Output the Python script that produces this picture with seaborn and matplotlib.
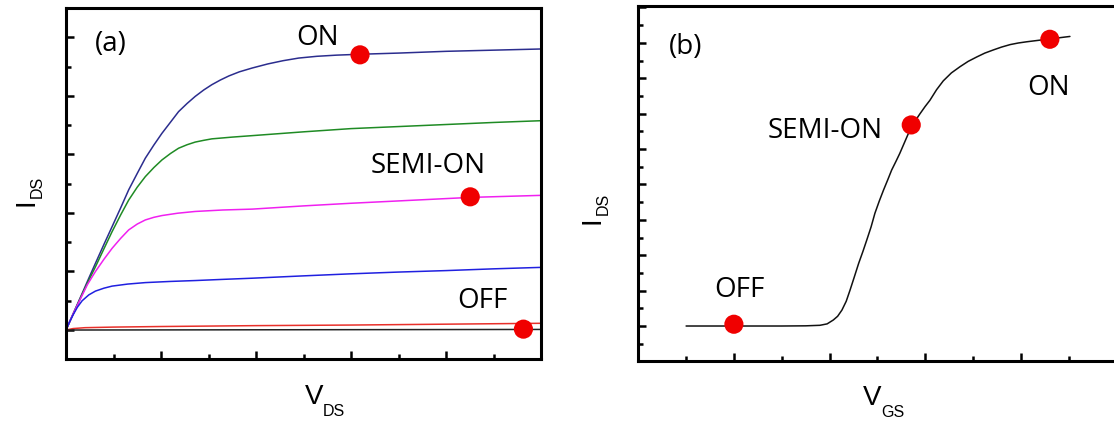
import numpy as np
import pandas as pd
import seaborn as sns
import matplotlib.pyplot as plt
from matplotlib.ticker import MultipleLocator

# ---- panel (a): output curves, I_DS vs V_DS ----
navy_x = [0, 0.17, 0.34, 0.48, 0.62, 0.8, 0.97, 1.15, 1.32, 1.5, 1.67, 1.85, 2.02, 2.2, 2.37,
          2.55, 2.72, 2.9, 3.07, 3.25, 3.43, 3.65, 3.92, 4.25, 4.57, 4.9, 5.28, 5.7, 6.19,
          7.0, 8.0, 9.0, 10.0]
navy_y = [0, 0.63, 1.25, 1.77, 2.28, 2.93, 3.53, 4.17, 4.79, 5.35, 5.87, 6.32, 6.72, 7.1, 7.46,
          7.74, 7.98, 8.2, 8.38, 8.54, 8.68, 8.82, 8.95, 9.09, 9.2, 9.29, 9.35, 9.39, 9.42,
          9.46, 9.52, 9.56, 9.60]

green_x = [0, 0.17, 0.34, 0.48, 0.62, 0.8, 0.97, 1.15, 1.32, 1.5, 1.67, 1.85, 2.02, 2.2, 2.37,
           2.55, 2.72, 2.9, 3.07, 3.5, 3.92, 5.0, 6.0, 7.0, 8.0, 9.0, 10.0]
green_y = [0, 0.61, 1.22, 1.7, 2.16, 2.78, 3.36, 3.93, 4.44, 4.88, 5.24, 5.55, 5.81, 6.03, 6.21,
           6.33, 6.42, 6.48, 6.53, 6.59, 6.64, 6.77, 6.88, 6.95, 7.02, 7.09, 7.15]

magenta_x = [0, 0.15, 0.3, 0.45, 0.62, 0.8, 0.97, 1.15, 1.32, 1.5, 1.67, 1.85, 2.02, 2.35,
             2.72, 3.3, 3.92, 5.0, 6.0, 7.0, 8.51, 10.0]
magenta_y = [0, 0.55, 1.05, 1.55, 2.0, 2.42, 2.79, 3.13, 3.42, 3.62, 3.76, 3.85, 3.91, 3.99,
             4.05, 4.1, 4.13, 4.24, 4.33, 4.41, 4.53, 4.60]

blue_x = [0, 0.07, 0.15, 0.24, 0.34, 0.48, 0.62, 0.8, 0.97, 1.3, 1.67, 2.2, 2.72, 3.3, 3.92,
          5.0, 6.0, 7.0, 8.0, 9.0, 10.0]
blue_y = [0, 0.26, 0.52, 0.78, 1.0, 1.2, 1.33, 1.43, 1.50, 1.57, 1.62, 1.66, 1.69, 1.73, 1.77,
          1.85, 1.92, 1.98, 2.03, 2.09, 2.14]

red_x = [0, 0.15, 0.4, 1.0, 2.0, 4.0, 6.0, 8.0, 10.0]
red_y = [0, 0.05, 0.08, 0.10, 0.12, 0.15, 0.17, 0.20, 0.23]

black_x = [0, 10.0]
black_y = [0, 0.02]

a_dot_x = [6.19, 8.51, 9.63]
a_dot_y = [9.40, 4.55, 0.03]
a_labels = ["ON", "SEMI-ON", "OFF"]

# ---- panel (b): transfer curve, I_DS vs V_GS ----
gs_x = [1.0, 2.0, 3.0, 3.5, 3.8, 3.95, 4.08, 4.17, 4.26, 4.35, 4.43, 4.52, 4.61, 4.7, 4.78,
        4.87, 4.95, 5.04, 5.13, 5.22, 5.30, 5.39, 5.47, 5.59, 5.71, 5.8, 5.89, 6.0, 6.1,
        6.24, 6.38, 6.55, 6.73, 6.9, 7.08, 7.25, 7.43, 7.6, 7.78, 7.95, 8.13, 8.37, 8.61,
        8.82, 9.03]
gs_y = [0, 0, 0, 0.01, 0.04, 0.12, 0.34, 0.55, 0.9, 1.4, 2.03, 2.78, 3.54, 4.22, 4.86,
        5.6, 6.37, 7.05, 7.68, 8.27, 8.81, 9.3, 9.75, 10.5, 11.25, 11.62, 11.98, 12.4, 12.75,
        13.35, 13.85, 14.3, 14.65, 14.95, 15.2, 15.42, 15.6, 15.76, 15.9, 15.99, 16.06, 16.14, 16.22,
        16.29, 16.36]

b_dot_x = [2.0, 5.71, 8.61]
b_dot_y = [0.1, 11.36, 16.2]
b_labels = ["OFF", "SEMI-ON", "ON"]

curves = pd.concat([
    pd.DataFrame({"vds": navy_x, "ids": navy_y, "curve": "c1"}),
    pd.DataFrame({"vds": green_x, "ids": green_y, "curve": "c2"}),
    pd.DataFrame({"vds": magenta_x, "ids": magenta_y, "curve": "c3"}),
    pd.DataFrame({"vds": blue_x, "ids": blue_y, "curve": "c4"}),
    pd.DataFrame({"vds": red_x, "ids": red_y, "curve": "c5"}),
    pd.DataFrame({"vds": black_x, "ids": black_y, "curve": "c6"}),
])
palette = {"c1": "#2b2d8e", "c2": "#1f8b24", "c3": "#f020f0",
           "c4": "#2020e0", "c5": "#e8302a", "c6": "#222222"}

sns.set_theme(style="white")
plt.rcParams['font.family'] = ['Open Sans', 'DejaVu Sans']
plt.rcParams['text.color'] = 'black'

W, H = 1114, 423
fig = plt.figure(figsize=(W / 100, H / 100), dpi=100)
ax1 = fig.add_axes([66 / W, 63.7 / H, 475 / W, 351.3 / H])
ax2 = fig.add_axes([638.3 / W, 62.3 / H, 478 / W, 354.7 / H])

sns.lineplot(data=curves, x="vds", y="ids", hue="curve", palette=palette,
             sort=False, estimator=None, linewidth=1.1, legend=False, ax=ax1)
sns.scatterplot(x=a_dot_x, y=a_dot_y, color="#f00000", s=190, edgecolor="none",
                zorder=5, ax=ax1)

sns.lineplot(x=gs_x, y=gs_y, color="#111111", sort=False, estimator=None,
             linewidth=1.1, ax=ax2)
sns.scatterplot(x=b_dot_x, y=b_dot_y, color="#f00000", s=190, edgecolor="none",
                zorder=5, ax=ax2)

ax1.set_xlim(0, 10)
ax1.set_ylim(-1, 11)
ax2.set_xlim(0, 10)
ax2.set_ylim(-1.96, 18.08)

for ax in (ax1, ax2):
    for sp in ax.spines.values():
        sp.set_linewidth(2.2)
        sp.set_color("black")
    ax.xaxis.set_major_locator(MultipleLocator(2))
    ax.xaxis.set_minor_locator(MultipleLocator(1))
    ax.yaxis.set_major_locator(MultipleLocator(2))
    ax.yaxis.set_minor_locator(MultipleLocator(1))
    ax.tick_params(which="both", direction="in", bottom=True, left=True,
                   top=False, right=False, labelbottom=False, labelleft=False,
                   width=1.8, color="black")
    ax.tick_params(which="major", length=6)
    ax.tick_params(which="minor", length=3.5)
    ax.set_xlabel("")
    ax.set_ylabel("")


def px(x, y):
    return x / W, 1 - y / H


lab = dict(family=['Liberation Sans', 'DejaVu Sans'], color='black')
# axis titles with small subscripts, placed in figure pixels
fig.text(*px(305, 403.5), "V", fontsize=20, va="baseline", ha="left", **lab)
fig.text(*px(323, 415.5), "DS", fontsize=11.5, va="baseline", ha="left", **lab)
fig.text(*px(863, 405), "V", fontsize=20, va="baseline", ha="left", **lab)
fig.text(*px(881, 417), "GS", fontsize=11.5, va="baseline", ha="left", **lab)

fig.text(*px(33, 206), "I", fontsize=20, rotation=90, rotation_mode="anchor",
         va="baseline", ha="left", **lab)
fig.text(*px(42, 198), "DS", fontsize=11.5, rotation=90, rotation_mode="anchor",
         va="baseline", ha="left", **lab)
fig.text(*px(599, 224), "I", fontsize=20, rotation=90, rotation_mode="anchor",
         va="baseline", ha="left", **lab)
fig.text(*px(608, 215), "DS", fontsize=11.5, rotation=90, rotation_mode="anchor",
         va="baseline", ha="left", **lab)

ax1.text(0.95, 9.77, "(a)", fontsize=20, ha="center", va="center")
ax1.text(5.29, 9.74, a_labels[0], fontsize=20, ha="center", va="baseline")
ax1.text(7.63, 5.36, a_labels[1], fontsize=20, ha="center", va="baseline")
ax1.text(8.77, 0.75, a_labels[2], fontsize=20, ha="center", va="baseline")

ax2.text(0.98, 15.76, "(b)", fontsize=20, ha="center", va="center")
ax2.text(2.11, 1.64, b_labels[0], fontsize=20, ha="center", va="baseline")
ax2.text(3.91, 10.62, b_labels[1], fontsize=20, ha="center", va="baseline")
ax2.text(8.59, 13.05, b_labels[2], fontsize=20, ha="center", va="baseline")

fig.savefig("out.png", dpi=100)
